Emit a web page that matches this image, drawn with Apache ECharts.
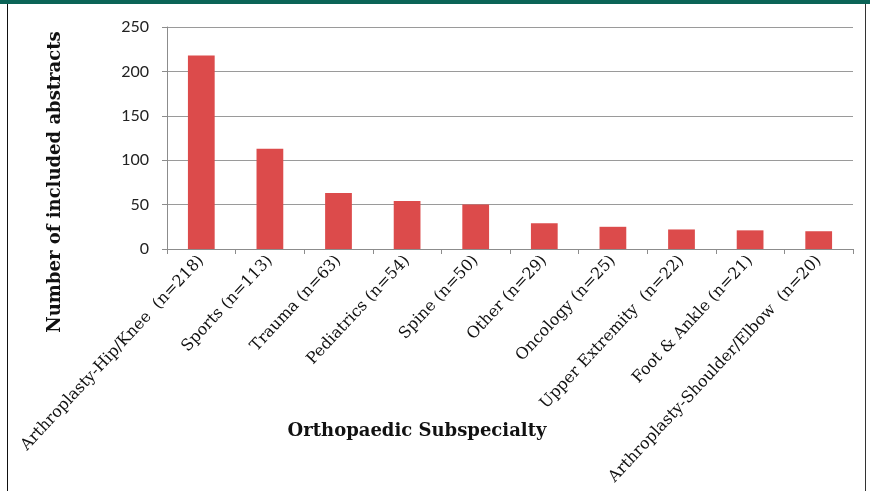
<!DOCTYPE html>
<html>
<head>
<meta charset="utf-8">
<script src="https://cdn.jsdelivr.net/npm/echarts@6/dist/echarts.min.js"></script>
<style>
html,body{margin:0;padding:0;background:#fff;}
#frame{position:absolute;left:0;top:0;width:870px;height:491px;}
#band{position:absolute;left:0;top:0;width:870px;height:4px;background:#0b6457;}
#lb{position:absolute;left:7px;top:4px;width:1px;height:487px;background:#111;}
#rb{position:absolute;left:865px;top:4px;width:1px;height:487px;background:#333;}
#chart{position:absolute;left:0;top:0;width:870px;height:491px;}
</style>
</head>
<body>
<div id="frame"><div id="chart"></div><div id="band"></div><div id="lb"></div><div id="rb"></div></div>
<script>
const categories = [
  "Arthroplasty-Hip/Knee  (n=218)",
  "Sports (n=113)",
  "Trauma (n=63)",
  "Pediatrics (n=54)",
  "Spine (n=50)",
  "Other (n=29)",
  "Oncology (n=25)",
  "Upper Extremity  (n=22)",
  "Foot & Ankle (n=21)",
  "Arthroplasty-Shoulder/Elbow  (n=20)"
];
const values = [218, 113, 63, 54, 50, 29, 25, 22, 21, 20];
const yTicks = [0, 50, 100, 150, 200, 250];
const xTitle = 'Orthopaedic Subspecialty';
const yTitle = 'Number of included abstracts';

const chart = echarts.init(document.getElementById('chart'), null, {renderer:'canvas'});
chart.setOption({
  animation: false,
  grid: {left: 167, right: 17, top: 27, bottom: 242, containLabel: false},
  graphic: [
    {type: 'text', x: 417, y: 431, style: {text: xTitle, font: 'bold 18px "DejaVu Serif"', fill: '#111', textAlign: 'center', textVerticalAlign: 'middle'}},
    {type: 'text', rotation: Math.PI / 2, x: 55, y: 182, style: {text: yTitle, font: 'bold 18px "DejaVu Serif"', fill: '#111', textAlign: 'center', textVerticalAlign: 'middle'}}
  ],
  xAxis: {
    type: 'category',
    data: categories,
    axisLine: {lineStyle: {color: '#8c8c8c', width: 1}},
    axisTick: {show: true, alignWithLabel: false, length: 5, lineStyle: {color: '#8c8c8c'}},
    axisLabel: {rotate: 47, interval: 0, margin: 9, fontFamily: 'DejaVu Serif', fontSize: 16, color: '#111'}
  },
  yAxis: {
    type: 'value',
    min: yTicks[0],
    max: yTicks[yTicks.length - 1],
    interval: 50,
    axisLine: {show: true, lineStyle: {color: '#8c8c8c', width: 1}},
    axisTick: {show: true, length: 5, lineStyle: {color: '#8c8c8c'}},
    axisLabel: {margin: 18, fontFamily: 'Lato', fontSize: 16, color: '#222'},
    splitLine: {lineStyle: {color: '#9a9a9a', width: 1}}
  },
  series: [{
    type: 'bar',
    data: values,
    barWidth: '39%',
    itemStyle: {color: '#dc4b4b'}
  }]
});
</script>
</body>
</html>
